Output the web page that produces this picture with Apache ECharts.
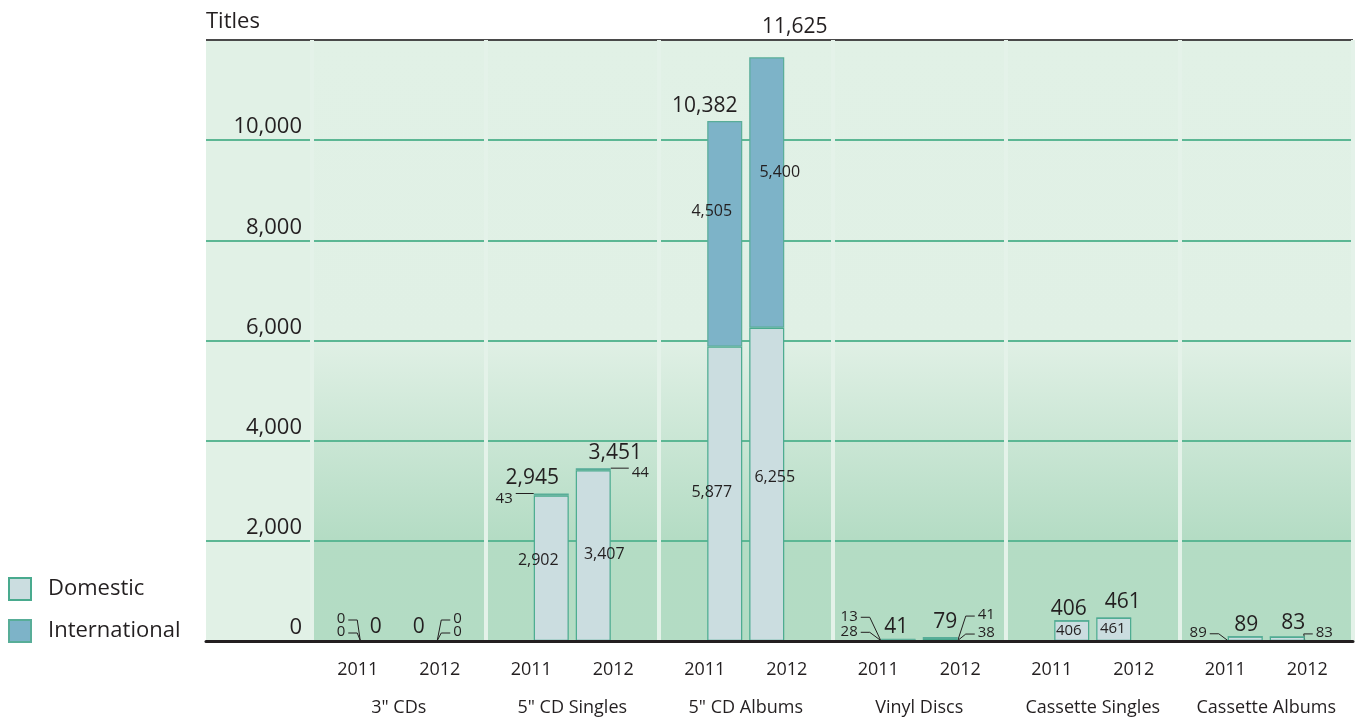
<!DOCTYPE html>
<html><head><meta charset="utf-8">
<script src="https://cdn.jsdelivr.net/npm/echarts@6/dist/echarts.min.js"></script>
<style>html,body{margin:0;padding:0;background:#fff}#c{width:1358px;height:722px}</style>
</head><body><div id="c"></div>
<script>
// ---- data ----
const categories = ['3" CDs', '5" CD Singles', '5" CD Albums', 'Vinyl Discs', 'Cassette Singles', 'Cassette Albums'];
const years = ['2011', '2012'];
const domestic2011 = [0, 2902, 5877, 28, 406, 89];
const international2011 = [0, 43, 4505, 13, 0, 0];
const domestic2012 = [0, 3407, 6255, 38, 461, 83];
const international2012 = [0, 44, 5400, 41, 0, 0];
const total2011 = [0, 2945, 10382, 41, 406, 89];
const total2012 = [0, 3451, 11625, 79, 461, 83];
const yMin = 0, yMax = 12000, yStep = 2000;

// ---- styling ----
const FONT = 'Open Sans';
const INK = '#231f20';
const GRID_GREEN = '#5cb794';
const BAR_W = 35, BAR_GAP = 7;
const fmt = v => Number(v).toLocaleString('en-US');

function inside(dx, dy, fs) {
  return { show: true, position: 'inside', offset: [dx, dy], fontSize: fs };
}
// labels drawn inside the bars (null = no inside label)
const insideSpecs = {
  d2011: [null, inside(-13, -8, 16), inside(-13, -1, 16), null, inside(-3, 0, 15), null],
  i2011: [null, null, inside(-13, -22, 16), null, null, null],
  d2012: [null, inside(11, -1, 16), inside(8, -7, 16), null, inside(-1, -1, 15), null],
  i2012: [null, null, inside(13, -20, 16), null, null, null]
};
// small labels with leader lines (year 0 = left side, year 1 = right side)
const leaderSpecs = [
  { cat: 0, year: 0, part: 'd', dist: 15, dy: -9, anchor: 'base' },
  { cat: 0, year: 0, part: 'i', dist: 15, dy: -22, anchor: 'base' },
  { cat: 0, year: 1, part: 'd', dist: 16, dy: -9, anchor: 'base' },
  { cat: 0, year: 1, part: 'i', dist: 16, dy: -22, anchor: 'base' },
  { cat: 1, year: 0, part: 'i', dist: 21, dy: 4, anchor: 'top' },
  { cat: 1, year: 1, part: 'i', dist: 21, dy: 3, anchor: 'top' },
  { cat: 3, year: 0, part: 'd', dist: 23, dy: -9, anchor: 'base' },
  { cat: 3, year: 0, part: 'i', dist: 23, dy: -23, anchor: 'base' },
  { cat: 3, year: 1, part: 'd', dist: 20, dy: -7, anchor: 'base' },
  { cat: 3, year: 1, part: 'i', dist: 20, dy: -23, anchor: 'base' },
  { cat: 5, year: 0, part: 'd', dist: 21, dy: -6, anchor: 'base' },
  { cat: 5, year: 1, part: 'd', dist: 11, dy: -6, anchor: 'base' }
];
const totalOffsets2011 = [[-2, 2], [-19, 0], [-20, 0], [-2, 4], [-3, 4], [1, 4]];
const totalOffsets2012 = [[-1, 2], [22, 0], [28, -15], [5, 0], [9, 0], [6, 2]];

const domStyle = { color: '#cbdde0', borderColor: '#49aa8e', borderWidth: 1.2 };
const intStyle = { color: '#7db3c8', borderColor: '#58ad98', borderWidth: 1.2 };

const domByYear = [domestic2011, domestic2012];
const intByYear = [international2011, international2012];

function valueSeries(name, stack, values, specs, style) {
  return {
    name, type: 'bar', stack, stackStrategy: 'all', xAxisIndex: 1, yAxisIndex: 1,
    barWidth: BAR_W, barGap: (BAR_GAP / BAR_W * 100) + '%', itemStyle: style, z: 2,
    label: { show: false, color: INK, fontFamily: FONT, formatter: p => fmt(p.value) },
    data: values.map((v, i) => specs[i] ? { value: v, label: specs[i] } : { value: v })
  };
}
function totalSeries(stack, totals, offs) {
  return {
    name: 'Total', type: 'bar', stack, stackStrategy: 'all', xAxisIndex: 1, yAxisIndex: 1,
    barWidth: BAR_W, barGap: (BAR_GAP / BAR_W * 100) + '%', silent: true, z: 2,
    itemStyle: { color: 'rgba(0,0,0,0)' },
    label: { show: true, position: 'top', distance: 5, fontSize: 21, color: INK, fontFamily: FONT,
      formatter: p => fmt(totals[p.dataIndex]) },
    data: totals.map((t, i) => ({ value: 0, label: { offset: offs[i] } }))
  };
}
const leaderSeries = {
  name: 'leaders', type: 'custom', xAxisIndex: 1, yAxisIndex: 1, z: 2, silent: true, clip: false,
  data: leaderSpecs.map(s => [s.cat, 0]),
  renderItem: (params, api) => {
    const s = leaderSpecs[params.dataIndex];
    const d = domByYear[s.year][s.cat], n = intByYear[s.year][s.cat];
    const v = s.part === 'd' ? d : n;
    const mid = s.part === 'd' ? d / 2 : d + n / 2;
    const top = s.part === 'd' ? d : d + n;
    const base = api.coord([s.cat, 0]);
    const sign = s.year === 0 ? -1 : 1;     // side of the label
    const dir = -sign;                       // direction from label to bar
    const edgeX = base[0] + sign * (BAR_GAP / 2 + BAR_W);
    const ly = api.coord([s.cat, mid])[1] + s.dy;
    const lx = edgeX + sign * s.dist;
    const cornerY = s.anchor === 'top' ? api.coord([s.cat, top])[1] : base[1];
    const lineY = s.anchor === 'top' ? cornerY : ly + 1;
    const x0 = lx + dir * 3, x1 = x0 + dir * 9;
    const pts = s.anchor === 'top' ? [[x0, lineY], [edgeX, cornerY]]
                                   : [[x0, lineY], [x1, lineY], [edgeX, cornerY - 0.5]];
    return {
      type: 'group',
      children: [
        { type: 'polyline', shape: { points: pts }, style: { stroke: INK, lineWidth: 1, fill: null } },
        { type: 'text', style: { text: fmt(v), x: lx, y: ly, textAlign: s.year === 0 ? 'right' : 'left',
          textVerticalAlign: 'middle', fontSize: 15, fontFamily: FONT, fill: INK } }
      ]
    };
  }
};

const splitColors = ['rgba(0,0,0,0)', GRID_GREEN, GRID_GREEN, GRID_GREEN, GRID_GREEN, GRID_GREEN, '#4a4a4a'];
function yAxisCfg(gi, showLabels) {
  return {
    gridIndex: gi, type: 'value', min: yMin, max: yMax, interval: yStep, position: 'right', z: 1,
    axisLine: { show: false }, axisTick: { show: false },
    axisLabel: showLabels ? {
      inside: true, margin: 10, fontSize: 22, color: INK, fontFamily: FONT,
      verticalAlign: 'bottom', padding: [0, 0, 2, 0],
      formatter: v => (v === yMax ? '' : fmt(v))
    } : { show: false },
    splitLine: { show: true, lineStyle: { color: splitColors, width: 2 } }
  };
}

const chart = echarts.init(document.getElementById('c'), null, { renderer: 'canvas' });
chart.setOption({
  animation: false,
  backgroundColor: '#ffffff',
  textStyle: { fontFamily: FONT },
  title: { text: 'Titles', left: 206, top: 11, padding: 0,
    textStyle: { fontSize: 22, fontWeight: 'normal', color: INK, fontFamily: FONT } },
  legend: {
    data: ['Domestic', 'International'], orient: 'vertical', left: 8, top: 577, padding: 0,
    itemWidth: 22, itemHeight: 22, itemGap: 18, icon: 'rect', selectedMode: false,
    textStyle: { fontSize: 22, color: INK, fontFamily: FONT, padding: [0, 0, 0, 12] }
  },
  grid: [
    { left: 206, top: 40, width: 106, bottom: 81, show: true, backgroundColor: '#e1f1e6', borderWidth: 0 },
    { left: 312, top: 40, right: 5, bottom: 81, show: true, borderWidth: 0,
      backgroundColor: { type: 'linear', x: 0, y: 0, x2: 0, y2: 1, colorStops: [
        { offset: 0, color: '#e1f1e6' }, { offset: 0.5, color: '#e0f0e5' },
        { offset: 0.83, color: '#b4dcc4' }, { offset: 1, color: '#b3dcc4' }] } }
  ],
  xAxis: [
    { gridIndex: 0, type: 'category', data: [''], z: 3,
      axisLine: { lineStyle: { color: INK, width: 3 } }, axisTick: { show: false },
      axisLabel: { show: false }, splitLine: { show: false } },
    { gridIndex: 1, type: 'category', data: categories, z: 3,
      axisLine: { lineStyle: { color: INK, width: 3 } }, axisTick: { show: false },
      splitLine: { show: true, interval: 0, lineStyle: { color: '#e4f2e9', width: 4 } },
      axisLabel: {
        interval: 0, margin: 10,
        formatter: v => `{y|${years[0]}}{y|${years[1]}}\n{g|${v}}`,
        rich: {
          y: { width: 82, align: 'center', fontSize: 18, lineHeight: 38, color: INK, fontFamily: FONT },
          g: { fontSize: 18, lineHeight: 38, color: INK, fontFamily: FONT }
        }
      } }
  ],
  yAxis: [yAxisCfg(0, true), yAxisCfg(1, false)],
  series: [
    valueSeries('Domestic', 'y2011', domestic2011, insideSpecs.d2011, domStyle),
    valueSeries('International', 'y2011', international2011, insideSpecs.i2011, intStyle),
    totalSeries('y2011', total2011, totalOffsets2011),
    valueSeries('Domestic', 'y2012', domestic2012, insideSpecs.d2012, domStyle),
    valueSeries('International', 'y2012', international2012, insideSpecs.i2012, intStyle),
    totalSeries('y2012', total2012, totalOffsets2012),
    leaderSeries
  ]
});
</script>
</body></html>
